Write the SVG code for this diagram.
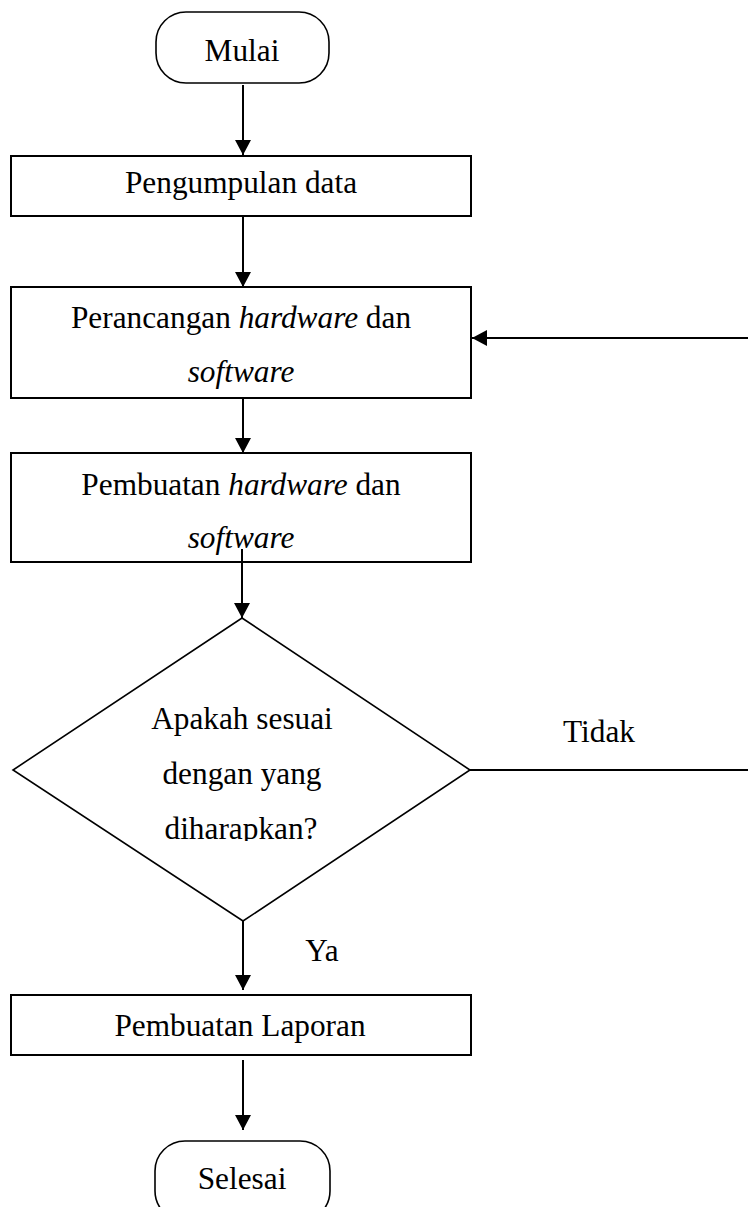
<svg xmlns="http://www.w3.org/2000/svg" width="748" height="1207" viewBox="0 0 748 1207">
<style>
.shape{fill:#fff;stroke:#000;stroke-width:2}
.term{fill:#fff;stroke:#000;stroke-width:1.6}
.dia{fill:#fff;stroke:#000;stroke-width:1.6}
.t{font-family:"Liberation Serif","Times New Roman",serif;font-size:31.3px;fill:#000;text-anchor:middle}
.i{font-style:italic}
.c{fill:none;stroke:#000;stroke-width:2}
</style>
<defs>
<marker id="ah" markerUnits="userSpaceOnUse" markerWidth="17" markerHeight="17" refX="15" refY="8" orient="auto">
<path d="M0,0 L15,8 L0,16 z" fill="#000"/>
</marker>
<clipPath id="clipd"><rect x="0" y="0" width="748" height="841"/></clipPath>
</defs>
<rect width="748" height="1207" fill="#fff"/>
<g id="mulai">
<rect class="term" x="156" y="12" width="173" height="71" rx="30" ry="30"/>
<text class="t" x="242" y="61">Mulai</text>
</g>
<g id="pengumpulan">
<rect class="shape" x="11" y="156" width="460" height="60"/>
<text class="t" x="241" y="193">Pengumpulan data</text>
</g>
<g id="perancangan">
<rect class="shape" x="11" y="287" width="460" height="111"/>
<text class="t" x="241" y="328">Perancangan <tspan class="i">hardware</tspan> dan</text>
<text class="t i" x="241" y="382">software</text>
</g>
<g id="pembuatan">
<rect class="shape" x="11" y="453" width="460" height="109"/>
<text class="t" x="241" y="495">Pembuatan <tspan class="i">hardware</tspan> dan</text>
<text class="t i" x="241" y="548">software</text>
</g>
<g id="keputusan">
<polygon class="dia" points="242,618 470,770 243,921 13,770"/>
<text class="t" x="242" y="729">Apakah sesuai</text>
<text class="t" x="242" y="784">dengan yang</text>
<text class="t" x="241" y="839" clip-path="url(#clipd)">diharapkan?</text>
</g>
<g id="laporan">
<rect class="shape" x="11" y="995" width="460" height="60"/>
<text class="t" x="240" y="1036">Pembuatan Laporan</text>
</g>
<g id="selesai">
<rect class="term" x="155" y="1141" width="175" height="80" rx="30" ry="30"/>
<text class="t" x="242" y="1189">Selesai</text>
</g>
<g id="connectors">
<path class="c" d="M243,85 V155" marker-end="url(#ah)"/>
<path class="c" d="M243,216 V287" marker-end="url(#ah)"/>
<path class="c" d="M243,398 V453" marker-end="url(#ah)"/>
<path class="c" d="M242,549 V618" marker-end="url(#ah)"/>
<path class="c" d="M243,921 V990" marker-end="url(#ah)"/>
<path class="c" d="M243,1060 V1130" marker-end="url(#ah)"/>
<path class="c" d="M470,770 H748"/>
<path class="c" d="M748,338 H472" marker-end="url(#ah)"/>
<text class="t" x="599" y="742">Tidak</text>
<text class="t" x="322" y="961">Ya</text>
</g>
</svg>
